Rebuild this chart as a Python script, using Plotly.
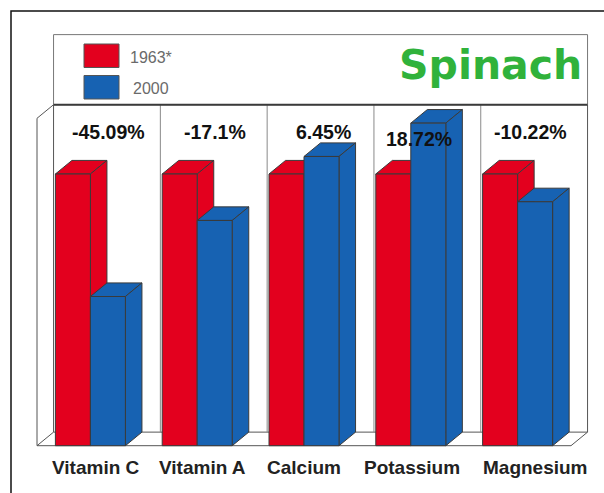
import plotly.graph_objects as go

# ---------------- data ----------------
categories = ["Vitamin C", "Vitamin A", "Calcium", "Potassium", "Magnesium"]
values_1963 = [100, 100, 100, 100, 100]          # 1963 level (index = 100)
values_2000 = [54.91, 82.90, 106.45, 118.72, 89.78]  # 2000 level relative to 1963
pct_change = [-45.09, -17.1, 6.45, 18.72, -10.22]
series_names = ["1963*", "2000"]
title_text = "Spinach"

# ---------------- style / layout ----------------
W, H = 604, 493
RED, BLUE = "#e3001e", "#1762b2"
EDGE = "#3a3a3a"
DX, DY = 0.155, 5.0          # 3-D depth offset (x in category units, y in value units)
BARGAP = 0.3446
BW = (1 - BARGAP) / 2
WALL_TOP = 120.5
HEADER_TOP = 151.3
X_RANGE = [-0.8464, 4.8090]
Y_RANGE = [-17.41, 164.04]

def px(xp):
    return xp / W

def py(yp):
    return 1 - yp / H

fig = go.Figure()
for name, vals, col in [(series_names[0], values_1963, RED),
                        (series_names[1], values_2000, BLUE)]:
    fig.add_trace(go.Bar(
        x=list(range(len(categories))), y=vals, name=name,
        marker=dict(color=col, line=dict(color=EDGE, width=1)),
        showlegend=False, hoverinfo="skip"))

shapes = []
line_gray = dict(color="#8a8a8a", width=1)
line_dark = dict(color="#555555", width=1)
n = len(categories)
xl, xr = -0.5, n - 0.5
# floor slab
shapes.append(dict(type="path", xref="x", yref="y", layer="below",
                   path=f"M{xl},0 L{xr},0 L{xr+DX},{DY} L{xl+DX},{DY} Z",
                   fillcolor="white", line=line_dark))
# left wall
shapes.append(dict(type="line", xref="x", yref="y", layer="below",
                   x0=xl, y0=0, x1=xl, y1=WALL_TOP, line=line_dark))
shapes.append(dict(type="line", xref="x", yref="y", layer="below",
                   x0=xl, y0=WALL_TOP, x1=xl + DX, y1=WALL_TOP + DY, line=line_dark))
# back wall verticals
for k in range(n + 1):
    shapes.append(dict(type="line", xref="x", yref="y", layer="below",
                       x0=xl + k + DX, y0=DY, x1=xl + k + DX, y1=WALL_TOP + DY,
                       line=line_gray if 0 < k < n else line_dark))
# header box
shapes.append(dict(type="rect", xref="x", yref="y", layer="below",
                   x0=xl + DX, y0=WALL_TOP + DY, x1=xr + DX, y1=HEADER_TOP,
                   fillcolor="white", line=dict(color="#777777", width=1)))
shapes.append(dict(type="line", xref="x", yref="y", layer="below",
                   x0=xl + DX, y0=WALL_TOP + DY, x1=xr + DX, y1=WALL_TOP + DY,
                   line=dict(color="#3a3a3a", width=2)))

# 3-D top and side faces, computed from the data
for i in range(n):
    for s, (vals, col) in enumerate([(values_1963, RED), (values_2000, BLUE)]):
        L = i - BW + s * BW
        R = L + BW
        h = vals[i]
        shapes.append(dict(type="path", xref="x", yref="y", layer="below",
                           path=f"M{L},{h} L{R},{h} L{R+DX},{h+DY} L{L+DX},{h+DY} Z",
                           fillcolor=col, line=dict(color=EDGE, width=1)))
        shapes.append(dict(type="path", xref="x", yref="y", layer="below",
                           path=f"M{R},0 L{R},{h} L{R+DX},{h+DY} L{R+DX},{DY} Z",
                           fillcolor=col, line=dict(color=EDGE, width=1)))

# outer frame
shapes.append(dict(type="rect", xref="paper", yref="paper", layer="above",
                   x0=px(11), y0=py(11), x1=px(640), y1=py(530),
                   line=dict(color="#111111", width=1.5)))
# legend swatches
shapes.append(dict(type="rect", xref="paper", yref="paper", layer="above",
                   x0=px(84), y0=py(44), x1=px(119), y1=py(67.5),
                   fillcolor=RED, line=dict(color="#555555", width=1)))
shapes.append(dict(type="rect", xref="paper", yref="paper", layer="above",
                   x0=px(84), y0=py(75.5), x1=px(119), y1=py(99),
                   fillcolor=BLUE, line=dict(color="#555555", width=1)))

annotations = []
annotations.append(dict(xref="paper", yref="paper", x=px(128), y=py(57.5),
                        text=series_names[0], showarrow=False, xanchor="left",
                        yanchor="middle", font=dict(family="Liberation Sans", size=16, color="#6a6a6a")))
annotations.append(dict(xref="paper", yref="paper", x=px(131), y=py(88.5),
                        text=series_names[1], showarrow=False, xanchor="left",
                        yanchor="middle", font=dict(family="Liberation Sans", size=16, color="#6a6a6a")))
annotations.append(dict(xref="paper", yref="paper", x=px(584), y=py(65),
                        text=f"<b>{title_text}</b>", showarrow=False, xanchor="right",
                        yanchor="middle", font=dict(family="DejaVu Sans", size=41, color="#30b23b")))

pct_dx = [0.01, 0.01, 0.03, -0.08, -0.03]
pct_y = [115.6, 115.6, 115.6, 112.9, 115.6]
for i, p in enumerate(pct_change):
    annotations.append(dict(xref="x", yref="y", x=i + DX + pct_dx[i], y=pct_y[i],
                            text=f"<b>{p:g}%</b>", showarrow=False,
                            xanchor="center", yanchor="middle",
                            font=dict(family="Liberation Sans", size=19.5, color="#111111")))

cat_dx = [0.052, 0.045, 0.0, 0.011, 0.163]
for i, c in enumerate(categories):
    annotations.append(dict(xref="x", yref="y", x=i + cat_dx[i], y=-7.9,
                            text=f"<b>{c}</b>", showarrow=False,
                            xanchor="center", yanchor="middle",
                            font=dict(family="Liberation Sans", size=19, color="#222222")))

fig.update_layout(
    width=W, height=H, margin=dict(l=0, r=0, t=0, b=0),
    paper_bgcolor="white", plot_bgcolor="white",
    barmode="group", bargap=BARGAP, bargroupgap=0,
    xaxis=dict(range=X_RANGE, visible=False, fixedrange=True),
    yaxis=dict(range=Y_RANGE, visible=False, fixedrange=True),
    shapes=shapes, annotations=annotations, showlegend=False,
)
fig.write_html("out.html", config={"displayModeBar": False},
               post_script="document.body.style.margin='0';document.body.style.overflow='hidden';")
